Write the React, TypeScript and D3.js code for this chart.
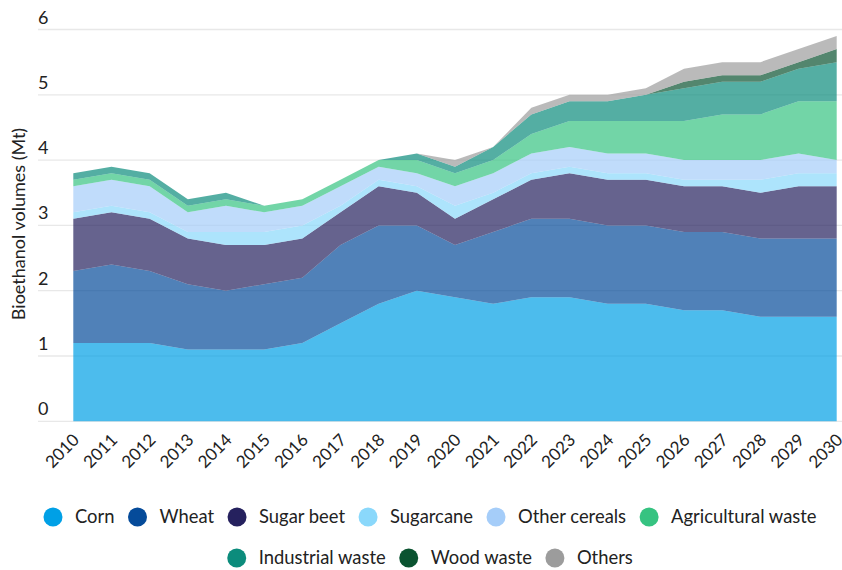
import React, { useEffect, useRef } from "react";
import * as d3 from "d3";

const years = ["2010","2011","2012","2013","2014","2015","2016","2017","2018","2019","2020","2021","2022","2023","2024","2025","2026","2027","2028","2029","2030"];

const corn = [1.2,1.2,1.2,1.1,1.1,1.1,1.2,1.5,1.8,2.0,1.9,1.8,1.9,1.9,1.8,1.8,1.7,1.7,1.6,1.6,1.6];
const wheat = [1.1,1.2,1.1,1.0,0.9,1.0,1.0,1.2,1.2,1.0,0.8,1.1,1.2,1.2,1.2,1.2,1.2,1.2,1.2,1.2,1.2];
const sugarBeet = [0.8,0.8,0.8,0.7,0.7,0.6,0.6,0.5,0.6,0.5,0.4,0.5,0.6,0.7,0.7,0.7,0.7,0.7,0.7,0.8,0.8];
const sugarcane = [0.1,0.1,0.1,0.1,0.2,0.2,0.2,0.1,0.1,0.1,0.2,0.1,0.1,0.1,0.1,0.1,0.1,0.1,0.2,0.2,0.2];
const otherCereals = [0.4,0.4,0.4,0.3,0.4,0.3,0.3,0.3,0.2,0.2,0.3,0.3,0.3,0.3,0.3,0.3,0.3,0.3,0.3,0.3,0.2];
const agriculturalWaste = [0.1,0.1,0.1,0.1,0.1,0.1,0.1,0.1,0.1,0.2,0.2,0.2,0.3,0.4,0.5,0.5,0.6,0.7,0.7,0.8,0.9];
const industrialWaste = [0.1,0.1,0.1,0.1,0.1,0,0,0,0,0.1,0.1,0.2,0.3,0.3,0.3,0.4,0.5,0.5,0.5,0.5,0.6];
const woodWaste = [0,0,0,0,0,0,0,0,0,0,0,0,0,0,0,0,0.1,0.1,0.1,0.1,0.2];
const others = [0,0,0,0,0,0,0,0,0,0,0.1,0,0.1,0.1,0.1,0.1,0.2,0.2,0.2,0.2,0.2];

const seriesNames = ["Corn","Wheat","Sugar beet","Sugarcane","Other cereals","Agricultural waste","Industrial waste","Wood waste","Others"];
const seriesValues = [corn, wheat, sugarBeet, sugarcane, otherCereals, agriculturalWaste, industrialWaste, woodWaste, others];
const seriesColors = ["#00a0e6","#054b9a","#25215e","#8ad8fb","#a5cdf9","#36c381","#0c8c7c","#0a5330","#9c9c9c"];
const legendRows = [[0,1,2,3,4,5],[6,7,8]];

const yTicks = [0,1,2,3,4,5,6];
const yTitle = "Bioethanol volumes (Mt)";
const FONT = "Lato, 'Source Sans Pro', sans-serif";

export default function App() {
  const ref = useRef<SVGSVGElement>(null);
  useEffect(() => {
    const svg = d3.select(ref.current);
    svg.selectAll("*").remove();
    const W = 842;
    const x = d3.scalePoint<string>().domain(years).range([73.3, 836.7]);
    const y = d3.scaleLinear().domain([0, 6]).range([421.3, 29.5]);

    // grid
    svg.append("g").selectAll("line").data(yTicks).join("line")
      .attr("x1", 38).attr("x2", W)
      .attr("y1", d => y(d)).attr("y2", d => y(d))
      .attr("stroke", "#e8e8e8").attr("stroke-width", 1.3);

    svg.append("g").selectAll("text").data(yTicks).join("text")
      .attr("x", 38).attr("y", d => y(d) - 6)
      .attr("font-family", FONT).attr("font-size", 18).attr("fill", "#222")
      .text(d => String(d));

    // stack
    const table = years.map((yr, i) => {
      const row: any = { year: yr };
      seriesNames.forEach((k, j) => { row[k] = seriesValues[j][i]; });
      return row;
    });
    const stacked = d3.stack<any>().keys(seriesNames)(table);
    const area = d3.area<any>()
      .x(d => x(d.data.year) as number)
      .y0(d => y(d[0]))
      .y1(d => y(d[1]));
    svg.append("g").selectAll("path").data(stacked).join("path")
      .attr("d", d => area(d as any) as string)
      .attr("fill", (_, i) => seriesColors[i])
      .attr("fill-opacity", 0.7);

    // x labels
    svg.append("g").selectAll("text").data(years).join("text")
      .attr("transform", d => `translate(${(x(d) as number) + 7},${441}) rotate(-45)`)
      .attr("text-anchor", "end")
      .attr("font-family", FONT).attr("font-size", 17).attr("fill", "#222")
      .text(d => d);

    // y title
    svg.append("text")
      .attr("transform", `translate(25,224) rotate(-90)`)
      .attr("text-anchor", "middle")
      .attr("font-family", FONT).attr("font-size", 18).attr("fill", "#222")
      .text(yTitle);

    // legend
    const rowY = [517, 558];
    const cx = 430;
    legendRows.forEach((row, ri) => {
      const g = svg.append("g");
      let cur = 0;
      row.forEach((si, k) => {
        const item = g.append("g").attr("transform", `translate(${cur},0)`);
        item.append("circle").attr("cx", 9.5).attr("cy", rowY[ri]).attr("r", 9.5).attr("fill", seriesColors[si]);
        const t = item.append("text").attr("x", 31.5).attr("y", rowY[ri] + 6.4)
          .attr("font-family", FONT).attr("font-size", 18.4).attr("fill", "#222")
          .text(seriesNames[si]);
        const w = (t.node() as SVGTextElement).getComputedTextLength();
        cur += 31.5 + w + (k < row.length - 1 ? 13.5 : 0);
      });
      g.attr("transform", `translate(${cx - cur / 2},0)`);
    });
  }, []);
  return <svg ref={ref} width={842} height={570} style={{ position: "absolute", left: 0, top: 0, background: "#fff" }} />;
}
